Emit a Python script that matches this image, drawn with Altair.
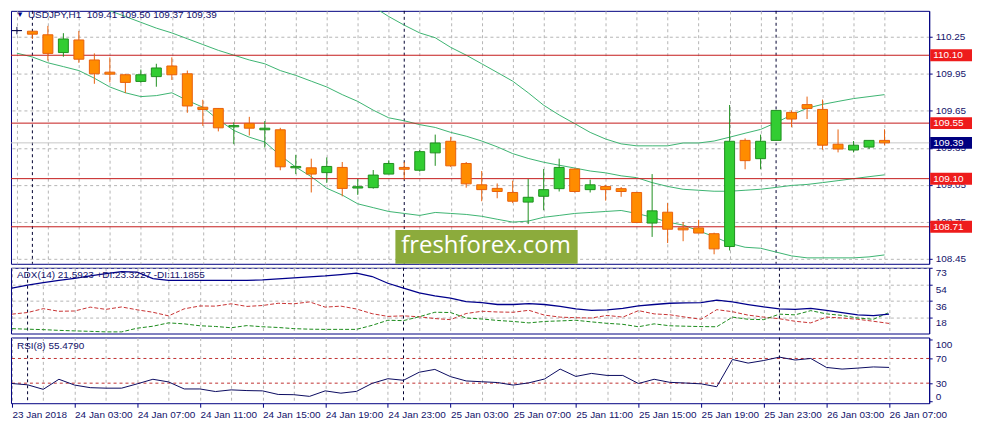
import json
import numpy as np
import pandas as pd
import altair as alt

# USDJPY H1 bars, 23 Jan 23:00 .. 26 Jan 07:00 (one per hour)
opens = [110.300, 110.295, 110.266, 110.122, 110.224, 110.062, 109.963, 109.942, 109.888, 109.927,
         110.013, 109.950, 109.679, 109.669, 109.520, 109.548, 109.496, 109.496, 109.188, 109.188,
         109.149, 109.191, 109.024, 109.027, 109.137, 109.191, 109.168, 109.309, 109.403, 109.223,
         109.050, 109.021, 108.988, 108.910, 108.957, 109.019, 109.178, 109.011, 109.037, 109.019,
         108.988, 108.740, 108.828, 108.701, 108.701, 108.654, 108.550, 109.410, 109.262, 109.410,
         109.637, 109.700, 109.661, 109.379, 109.332, 109.356, 109.41]
highs = [110.330, 110.295, 110.338, 110.279, 110.297, 110.115, 110.083, 109.950, 109.984, 110.031,
         110.083, 109.976, 109.739, 109.672, 109.556, 109.601, 109.567, 109.512, 109.293, 109.262,
         109.272, 109.235, 109.097, 109.170, 109.248, 109.235, 109.332, 109.457, 109.439, 109.235,
         109.162, 109.061, 109.084, 109.097, 109.178, 109.262, 109.183, 109.092, 109.050, 109.032,
         108.990, 109.137, 108.902, 108.748, 108.766, 108.662, 109.697, 109.426, 109.457, 109.653,
         109.653, 109.765, 109.741, 109.499, 109.405, 109.410, 109.50]
lows = [110.270, 110.232, 110.057, 110.088, 110.039, 109.869, 109.880, 109.794, 109.877, 109.845,
        109.900, 109.634, 109.528, 109.483, 109.379, 109.450, 109.352, 109.168, 109.137, 108.988,
        109.066, 108.957, 108.969, 109.019, 109.137, 109.092, 109.157, 109.204, 109.195, 109.027,
        108.917, 108.941, 108.902, 108.732, 108.844, 108.996, 108.988, 108.988, 108.922, 108.953,
        108.745, 108.628, 108.578, 108.593, 108.659, 108.487, 108.518, 109.176, 109.176, 109.410,
        109.517, 109.583, 109.334, 109.313, 109.313, 109.340, 109.37]
closes = [110.300, 110.271, 110.115, 110.232, 110.068, 109.950, 109.947, 109.880, 109.942, 109.997,
          109.942, 109.689, 109.661, 109.512, 109.530, 109.509, 109.509, 109.196, 109.199, 109.137,
          109.199, 109.021, 109.035, 109.129, 109.223, 109.176, 109.319, 109.389, 109.204, 109.058,
          109.011, 108.996, 108.917, 108.949, 109.011, 109.191, 108.996, 109.050, 109.011, 108.996,
          108.745, 108.839, 108.690, 108.685, 108.659, 108.531, 109.403, 109.246, 109.403, 109.653,
          109.583, 109.669, 109.371, 109.340, 109.371, 109.410, 109.39]

# Bollinger bands (upper and middle run off the top of the chart early on)
bb_upper = [None] * 22 + [
    110.555, 110.493, 110.414, 110.344, 110.281, 110.242, 110.164, 110.101, 110.031, 109.961,
    109.890, 109.796, 109.695, 109.616, 109.546, 109.475, 109.421, 109.382, 109.366, 109.366,
    109.366, 109.389, 109.389, 109.405, 109.436, 109.468, 109.499, 109.554, 109.616, 109.671,
    109.702, 109.726, 109.749, 109.765, 109.781]
bb_middle = [None] * 4 + [
    110.555, 110.508, 110.461, 110.414, 110.367, 110.320, 110.281, 110.234, 110.187, 110.140,
    110.101, 110.062, 110.031, 109.976, 109.937, 109.890, 109.843, 109.781, 109.726, 109.655,
    109.593, 109.569, 109.538, 109.515, 109.475, 109.444, 109.405, 109.358, 109.303, 109.264,
    109.233, 109.209, 109.186, 109.162, 109.147, 109.123, 109.108, 109.068, 109.037, 109.014,
    109.006, 108.998, 108.998, 109.006, 109.014, 109.029, 109.045, 109.053, 109.068, 109.084,
    109.100, 109.116, 109.131]
bb_lower = [110.117, 110.086, 110.039, 110.008, 109.976, 109.914, 109.843, 109.796, 109.765, 109.773,
            109.796, 109.734, 109.679, 109.577, 109.491, 109.436, 109.397, 109.288, 109.194, 109.116,
            109.022, 108.967, 108.896, 108.865, 108.834, 108.818, 108.802, 108.826, 108.818, 108.810,
            108.795, 108.771, 108.748, 108.756, 108.787, 108.802, 108.818, 108.826, 108.834, 108.842,
            108.818, 108.787, 108.748, 108.724, 108.677, 108.630, 108.576, 108.544, 108.536, 108.505,
            108.474, 108.458, 108.458, 108.458, 108.458, 108.466, 108.482]

adx = [50.5, 53.7, 56.4, 59.0, 61.2, 63.9, 66.6, 68.7, 68.2, 61.0,
       59.0, 59.0, 59.0, 59.0, 59.0, 59.0, 59.6, 60.7, 61.7, 62.8,
       63.9, 65.5, 67.1, 63.3, 55.8, 50.5, 45.1, 41.9, 39.2, 35.4,
       34.4, 32.2, 32.2, 33.3, 32.2, 30.1, 27.4, 25.8, 26.3, 27.9,
       30.6, 32.2, 33.6, 34.0, 34.4, 37.0, 35.1, 32.2, 29.5, 27.4,
       26.8, 27.9, 25.8, 23.1, 20.7, 19.9, 21.5923]
plus_di = [5.4, 4.8, 4.3, 3.5, 2.9, 2.4, 1.8, 1.8, 5.9, 8.1,
           11.8, 10.7, 8.6, 7.8, 6.4, 8.8, 7.5, 6.7, 5.4, 4.8,
           4.6, 4.6, 4.6, 9.1, 14.7, 14.3, 18.6, 23.6, 23.3, 17.2,
           16.1, 14.5, 13.4, 11.8, 13.4, 14.0, 14.7, 12.9, 11.3, 10.2,
           7.5, 10.7, 8.6, 8.1, 7.7, 7.5, 18.2, 15.8, 15.4, 21.5,
           20.7, 25.4, 21.8, 20.1, 17.2, 15.8, 23.3227]
minus_di = [21.5, 23.3, 27.6, 24.7, 25.0, 29.3, 26.8, 29.5, 26.3, 23.6,
            19.6, 27.4, 30.6, 30.4, 33.0, 30.1, 31.1, 33.6, 33.0, 35.1,
            29.3, 30.4, 27.2, 22.0, 19.0, 19.6, 18.6, 16.6, 15.4, 22.2,
            24.7, 23.9, 23.6, 25.8, 20.4, 18.2, 17.5, 17.2, 20.1, 18.2,
            25.4, 21.8, 20.8, 18.2, 15.8, 26.5, 24.2, 20.4, 18.2, 16.4,
            13.6, 11.8, 18.2, 17.2, 15.8, 13.6, 11.1855]
rsi = [29.4, 27.3, 20.0, 36.3, 26.9, 22.7, 21.9, 21.9, 28.9, 36.3,
       32.0, 20.6, 20.6, 16.4, 19.1, 18.0, 17.5, 11.7, 11.3, 8.6,
       17.5, 13.8, 16.7, 29.7, 37.2, 34.7, 47.7, 52.3, 40.6, 33.6,
       32.3, 31.0, 26.9, 30.5, 36.7, 52.8, 40.9, 45.8, 42.5, 42.5,
       29.4, 36.3, 31.3, 30.2, 28.9, 24.2, 68.4, 62.5, 66.7, 72.2,
       67.5, 70.0, 55.5, 52.8, 54.4, 56.3, 55.479]

levels = [110.10, 109.55, 109.10, 108.71]
last_price = [109.39]
price_ticks = [108.45, 108.75, 109.05, 109.35, 109.65, 109.95, 110.25]
day_starts = [1, 25, 49]
rsi_levels = [70, 30]
tick_labels = ["23 Jan 2018", "24 Jan 03:00", "24 Jan 07:00", "24 Jan 11:00", "24 Jan 15:00",
               "24 Jan 19:00", "24 Jan 23:00", "25 Jan 03:00", "25 Jan 07:00", "25 Jan 11:00",
               "25 Jan 15:00", "25 Jan 19:00", "25 Jan 23:00", "26 Jan 03:00", "26 Jan 07:00"]

# layout / style
W = 922
H_PRICE, H_IND = 254, 66
NAVY = "#000080"
TXT = "#12126a"
GRID = "#b4b4b4"
FONT = "Liberation Sans"

n = len(opens)
idx = list(range(n))
bars = pd.DataFrame({"i": idx, "open": opens, "high": highs, "low": lows, "close": closes,
                     "adx": adx, "pdi": plus_di, "mdi": minus_di, "rsi": rsi})
bars["dir"] = np.select([bars.close > bars.open, bars.close < bars.open], ["up", "down"], "flat")

bands = pd.DataFrame({
    "i": idx * 3,
    "band": ["upper"] * n + ["middle"] * n + ["lower"] * n,
    "value": bb_upper + bb_middle + bb_lower,
}).dropna()

seps = pd.DataFrame({"i": day_starts})
lv = pd.DataFrame({"price": levels})
lp = pd.DataFrame({"price": last_price})
rl = pd.DataFrame({"v": rsi_levels})
one = pd.DataFrame({"t": ["x"]})

x_scale = alt.Scale(domain=[-0.06, 58.56], nice=False, zero=False)
grid_axis = alt.Axis(values=list(range(0, n, 2)), grid=True, gridColor=GRID, gridDash=[3, 3],
                     gridOpacity=1, labels=False, ticks=False, domain=False, title=None)
label_axis = alt.Axis(
    values=list(range(0, n, 2)), grid=True, gridColor=GRID, gridDash=[3, 3], gridOpacity=1,
    labelExpr=f"datum.value % 4 === 0 ? {json.dumps(tick_labels)}[datum.value / 4] : ''",
    labelAlign="left", labelFlush=False, labelOverlap=False, labelPadding=2,
    labelColor=TXT, labelFont=FONT, labelFontSize=10,
    tickSize=4, tickColor=NAVY,
    tickOpacity={"condition": {"test": "datum.value % 4 === 0", "value": 1}, "value": 0},
    domain=False, title=None)


def xe(axis=grid_axis):
    return alt.X("i:Q", scale=x_scale, axis=axis)


price_scale = alt.Scale(domain=[108.41, 110.46], nice=False, zero=False)
price_axis = alt.Axis(orient="right", values=price_ticks, format=".2f", grid=True, gridColor=GRID,
                      gridDash=[3, 3], gridOpacity=1, tickSize=3, tickColor=NAVY,
                      domainColor=NAVY, labelColor=TXT, labelFont=FONT, labelFontSize=10,
                      labelPadding=3, title=None)


def py(field):
    return alt.Y(f"{field}:Q", scale=price_scale, axis=price_axis)


dirs = ["up", "down", "flat"]
stroke_sc = alt.Scale(domain=dirs, range=["#1f8f1f", "#e8600c", "#101050"])
fill_sc = alt.Scale(domain=dirs, range=["#32cd32", "#ff8c00", "#101050"])

sep_p = alt.Chart(seps).mark_rule(color="#000030", strokeDash=[3, 3]).encode(x=xe())
lvl_rule = alt.Chart(lv).mark_rule(color="#c41a1a").encode(y=py("price"))
last_rule = alt.Chart(lp).mark_rule(color="#c8c8c8").encode(y=py("price"))
band_lines = alt.Chart(bands).mark_line(color="#3cb371", strokeWidth=1, clip=True).encode(
    x=xe(), y=py("value"), detail="band:N")
wm_box = alt.Chart(one).mark_rect(color="#8cab3c").encode(
    x=alt.value(386), x2=alt.value(569), y=alt.value(220), y2=alt.value(H_PRICE))
wm_txt = alt.Chart(one).mark_text(text="freshforex.com", font="Open Sans", fontSize=24,
                                  color="white").encode(x=alt.value(477), y=alt.value(236))
wicks = alt.Chart(bars).mark_rule(strokeWidth=1, clip=True).encode(
    x=xe(), y=py("low"), y2="high", stroke=alt.Stroke("dir:N", scale=stroke_sc, legend=None))
bodies = alt.Chart(bars).mark_bar(width=10, strokeWidth=1, clip=True).encode(
    x=xe(), y=py("open"), y2="close",
    fill=alt.Fill("dir:N", scale=fill_sc, legend=None),
    stroke=alt.Stroke("dir:N", scale=stroke_sc, legend=None))
lvl_box = alt.Chart(lv).mark_tick(orient="horizontal", size=42, thickness=12, color="#ee1c1c",
                                  opacity=1).encode(x=alt.value(W + 22), y=py("price"))
lvl_txt = alt.Chart(lv).mark_text(align="left", baseline="middle", color="white", font=FONT,
                                  fontSize=10).encode(
    x=alt.value(W + 4), y=py("price"), text=alt.Text("price:Q", format=".2f"))
lp_box = alt.Chart(lp).mark_tick(orient="horizontal", size=42, thickness=12, color=NAVY,
                                 opacity=1).encode(x=alt.value(W + 22), y=py("price"))
lp_txt = alt.Chart(lp).mark_text(align="left", baseline="middle", color="white", font=FONT,
                                 fontSize=10).encode(
    x=alt.value(W + 4), y=py("price"), text=alt.Text("price:Q", format=".2f"))
tri = alt.Chart(one).mark_text(text="▼", fontSize=8, color=NAVY).encode(
    x=alt.value(9), y=alt.value(4))
title = alt.Chart(one).mark_text(
    text="USDJPY,H1\u00a0\u00a0109.41 109.50 109.37 109.39", align="left", baseline="middle",
    font=FONT, fontSize=10, color=TXT).encode(x=alt.value(17), y=alt.value(4))

price = alt.layer(sep_p, last_rule, band_lines, lvl_rule, wm_box, wm_txt, wicks, bodies,
                  lvl_box, lvl_txt, lp_box, lp_txt, tri, title).properties(width=W, height=H_PRICE)

# ADX panel
adx_scale = alt.Scale(domain=[0, 73], nice=False, zero=False)
adx_axis = alt.Axis(orient="right", values=[18, 36, 54, 73], grid=True, gridColor=GRID,
                    gridDash=[3, 3], gridOpacity=1, labelBaseline="top", tickSize=3,
                    tickColor=NAVY, domainColor=NAVY, labelColor=TXT, labelFont=FONT,
                    labelFontSize=10, labelPadding=3, title=None)


def ay(field):
    return alt.Y(f"{field}:Q", scale=adx_scale, axis=adx_axis)


adx_panel = alt.layer(
    alt.Chart(seps).mark_rule(color="#000030", strokeDash=[3, 3]).encode(x=xe()),
    alt.Chart(bars).mark_line(color="#c83232", strokeWidth=1, strokeDash=[4, 2]).encode(
        x=xe(), y=ay("mdi")),
    alt.Chart(bars).mark_line(color="#1a8a1a", strokeWidth=1, strokeDash=[4, 2]).encode(
        x=xe(), y=ay("pdi")),
    alt.Chart(bars).mark_line(color="#00008b", strokeWidth=1.3).encode(x=xe(), y=ay("adx")),
    alt.Chart(one).mark_text(text="ADX(14) 21.5923 +DI:23.3227 -DI:11.1855", align="left",
                             baseline="middle", font=FONT, fontSize=10, color=TXT).encode(
        x=alt.value(6), y=alt.value(7)),
).properties(width=W, height=H_IND)

# RSI panel
rsi_scale = alt.Scale(domain=[-2.5, 104], nice=False, zero=False)
rsi_axis = alt.Axis(orient="right", values=[0, 30, 70, 100], grid=False, labelFlush=4,
                    tickSize=3, tickColor=NAVY, domainColor=NAVY, labelColor=TXT,
                    labelFont=FONT, labelFontSize=10, labelPadding=3, title=None)


def ry(field):
    return alt.Y(f"{field}:Q", scale=rsi_scale, axis=rsi_axis)


rsi_panel = alt.layer(
    alt.Chart(seps).mark_rule(color="#000030", strokeDash=[3, 3]).encode(x=xe(label_axis)),
    alt.Chart(rl).mark_rule(color="#c03030", strokeDash=[3, 3]).encode(y=ry("v")),
    alt.Chart(bars).mark_line(color="#0a0a60", strokeWidth=1).encode(x=xe(label_axis), y=ry("rsi")),
    alt.Chart(one).mark_text(text="RSI(8) 55.4790", align="left", baseline="middle", font=FONT,
                             fontSize=10, color=TXT).encode(x=alt.value(6), y=alt.value(9)),
).properties(width=W, height=H_IND)

chart = alt.vconcat(price, adx_panel, rsi_panel, spacing=2).properties(
    padding=0, background="white"
).configure_view(stroke=NAVY, strokeWidth=1)

chart.save("out.html", embed_options={"renderer": "svg", "actions": False})
